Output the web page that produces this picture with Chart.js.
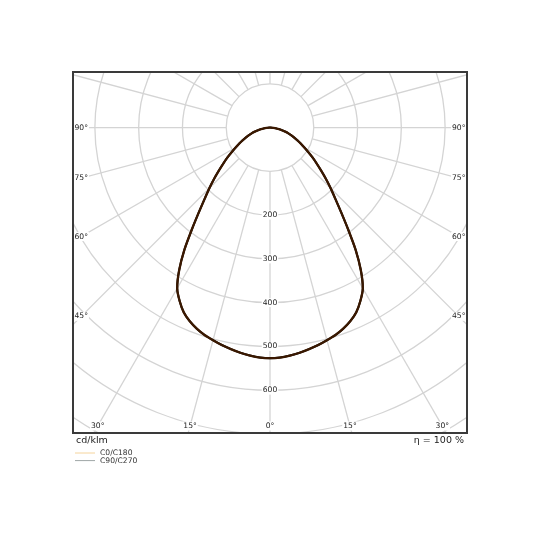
<!DOCTYPE html>
<html>
<head>
<meta charset="utf-8">
<script src="https://cdn.jsdelivr.net/npm/chart.js@4/dist/chart.umd.min.js"></script>
<style>
  html, body { margin: 0; padding: 0; background: #fff; }
  #wrap { width: 540px; height: 540px; }
</style>
</head>
<body>
<div id="wrap"><canvas id="ldc" width="540" height="540"></canvas></div>
<script>
// gamma angle (deg from nadir) and intensity in cd/klm
const gammaAngles = [0, 2.5, 5, 7.5, 10, 12.5, 15, 17.5, 20, 22.5, 25, 27.5, 30, 32.5, 35, 37.5, 40,
  42.5, 45, 47.5, 50, 52.5, 55, 57.5, 60, 62.5, 65, 67.5, 70, 72.5, 75, 77.5, 80, 82.5, 85, 87.5, 90];
const c0c180 = [527, 526, 523, 519, 514, 509, 503, 497, 489, 479, 466, 447, 424, 386, 341, 293, 253,
  221, 196, 173, 152, 134, 118, 103, 90, 79, 69, 60, 52, 44, 36, 28, 21, 14, 8, 3, 0];
const c90c270 = [527, 526, 523, 519, 514, 509, 503, 497, 489, 479, 466, 447, 424, 386, 341, 293, 253,
  221, 196, 173, 152, 134, 118, 103, 90, 79, 69, 60, 52, 44, 36, 28, 21, 14, 8, 3, 0];

const ringValues = [100, 200, 300, 400, 500, 600, 700, 800, 900];
const ringLabels = [200, 300, 400, 500, 600];
const spokeStep = 15;
const sideAngleLabels = [90, 75, 60, 45];
const bottomAngleLabels = [-30, -15, 0, 15, 30];
const legendLabels = ["C0/C180", "C90/C270"];
const legendColors = ["#f5d49c", "#9ea6a6"];
const unitLabel = "cd/klm";
const effLabel = "η = 100 %";

const GRID = "#d4d4d4";
const TXT = "#222";

function toPoints(values) {
  const pts = [];
  for (let i = gammaAngles.length - 1; i >= 0; i--) {
    const g = gammaAngles[i] * Math.PI / 180;
    pts.push({ x: -values[i] * Math.sin(g), y: -values[i] * Math.cos(g) });
  }
  for (let i = 1; i < gammaAngles.length; i++) {
    const g = gammaAngles[i] * Math.PI / 180;
    pts.push({ x: values[i] * Math.sin(g), y: -values[i] * Math.cos(g) });
  }
  return pts;
}

function boxLabel(ctx, text, cx, cy) {
  const w = ctx.measureText(text).width;
  ctx.fillStyle = "#fff";
  ctx.fillRect(cx - w / 2 - 1, cy - 4.5, w + 2, 9);
  ctx.fillStyle = TXT;
  ctx.fillText(text, cx, cy);
}

const polarGrid = {
  id: "polarGrid",
  beforeDatasetsDraw(chart) {
    const { ctx, chartArea: a, scales: { x, y } } = chart;
    const ox = x.getPixelForValue(0);
    const oy = y.getPixelForValue(0);
    const k = x.getPixelForValue(100) - ox;
    ctx.save();
    ctx.beginPath();
    ctx.rect(a.left, a.top, a.right - a.left, a.bottom - a.top);
    ctx.clip();
    ctx.strokeStyle = GRID;
    ctx.lineWidth = 1.3;
    ringValues.forEach(v => {
      ctx.beginPath();
      ctx.arc(ox, oy, v / 100 * k, 0, Math.PI * 2);
      ctx.stroke();
    });
    const r0 = k;
    const r1 = 1000 / 100 * k;
    for (let ang = 0; ang < 360; ang += spokeStep) {
      const t = ang * Math.PI / 180;
      const dx = Math.sin(t), dy = Math.cos(t);
      ctx.beginPath();
      ctx.moveTo(ox + dx * r0, oy + dy * r0);
      ctx.lineTo(ox + dx * r1, oy + dy * r1);
      ctx.stroke();
    }

    ctx.font = "7.6px 'DejaVu Sans'";
    ctx.textAlign = "center";
    ctx.textBaseline = "middle";
    ringLabels.forEach(v => {
      boxLabel(ctx, String(v), ox, y.getPixelForValue(-v));
    });
    sideAngleLabels.forEach(g => {
      const text = g + "°";
      const w = ctx.measureText(text).width;
      const t = g * Math.PI / 180;
      const cxL = a.left + 1.5 + w / 2;
      const cxR = a.right - 1.5 - w / 2;
      const cyL = oy + (ox - cxL) * Math.cos(t) / Math.sin(t);
      const cyR = oy + (cxR - ox) * Math.cos(t) / Math.sin(t);
      boxLabel(ctx, text, cxL, cyL);
      boxLabel(ctx, text, cxR, cyR);
    });
    bottomAngleLabels.forEach(g => {
      const text = Math.abs(g) + "°";
      const t = g * Math.PI / 180;
      const cy = a.bottom - 7;
      const cx = ox + (cy - oy) * Math.tan(t);
      boxLabel(ctx, text, cx, cy);
    });
    ctx.restore();
  },
  afterDraw(chart) {
    const { ctx, chartArea: a } = chart;
    ctx.save();
    ctx.strokeStyle = "#3a3a3a";
    ctx.lineWidth = 2;
    ctx.strokeRect(a.left, a.top, a.right - a.left, a.bottom - a.top);

    ctx.fillStyle = TXT;
    ctx.font = "9.5px 'DejaVu Sans'";
    ctx.textBaseline = "middle";
    ctx.textAlign = "left";
    ctx.fillText(unitLabel, a.left + 3, a.bottom + 7.5);
    ctx.textAlign = "right";
    ctx.fillText(effLabel, a.right - 3, a.bottom + 7.5);

    ctx.font = "7.6px 'DejaVu Sans'";
    ctx.textAlign = "left";
    legendLabels.forEach((lab, i) => {
      const ly = a.bottom + 20 + i * 7.6;
      ctx.strokeStyle = legendColors[i];
      ctx.lineWidth = 1;
      ctx.beginPath();
      ctx.moveTo(a.left + 2, ly);
      ctx.lineTo(a.left + 22, ly);
      ctx.stroke();
      ctx.fillStyle = "#333";
      ctx.fillText(lab, a.left + 27, ly);
    });
    ctx.restore();
  }
};

new Chart(document.getElementById("ldc"), {
  type: "scatter",
  data: {
    datasets: [
      { label: legendLabels[0], data: toPoints(c0c180), showLine: true, pointRadius: 0,
        borderColor: "#3a1800", borderWidth: 2.3, tension: 0.2 },
      { label: legendLabels[1], data: toPoints(c90c270), showLine: true, pointRadius: 0,
        borderColor: "#000000", borderWidth: 2.0, tension: 0.2 }
    ]
  },
  options: {
    responsive: false,
    animation: false,
    layout: { padding: { left: 73, right: 73, top: 72, bottom: 107 } },
    plugins: { legend: { display: false }, tooltip: { enabled: false } },
    scales: {
      x: { type: "linear", min: -450, max: 450, display: false },
      y: { type: "linear", min: -698, max: 127, display: false }
    }
  },
  plugins: [polarGrid]
});
</script>
</body>
</html>
